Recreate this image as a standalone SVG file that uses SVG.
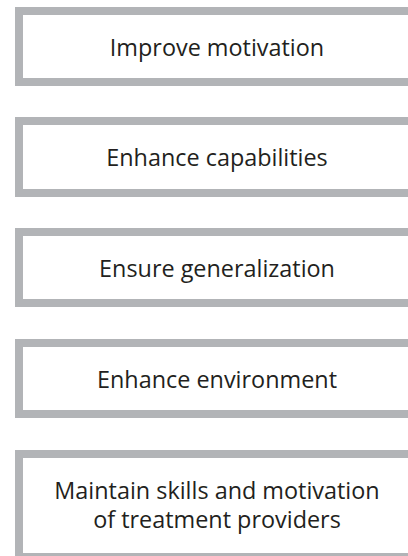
<svg xmlns="http://www.w3.org/2000/svg" width="408" height="556" viewBox="0 0 408 556">
<style>
.box{fill:#ffffff;stroke:#b2b4b7;stroke-width:8}
.lbl{font-family:"Open Sans","Noto Sans","Liberation Sans",sans-serif;font-size:23.4px;fill:#231f20;text-anchor:middle}
</style>
<rect width="408" height="556" fill="#ffffff"/>
<g id="node-motivation">
<rect class="box" x="19" y="11" width="396" height="71"/>
<text class="lbl" x="217" y="56">Improve motivation</text>
</g>
<g id="node-capabilities">
<rect class="box" x="19" y="121" width="396" height="72"/>
<text class="lbl" x="217" y="166">Enhance capabilities</text>
</g>
<g id="node-generalization">
<rect class="box" x="19" y="232" width="396" height="71"/>
<text class="lbl" x="217" y="277">Ensure generalization</text>
</g>
<g id="node-environment">
<rect class="box" x="19" y="343" width="396" height="71"/>
<text class="lbl" x="217" y="388">Enhance environment</text>
</g>
<g id="node-maintain">
<rect class="box" x="19" y="454" width="396" height="103"/>
<text class="lbl" x="217" y="499">Maintain skills and motivation</text>
<text class="lbl" x="217" y="528">of treatment providers</text>
</g>
<g id="connectors"></g>
</svg>
